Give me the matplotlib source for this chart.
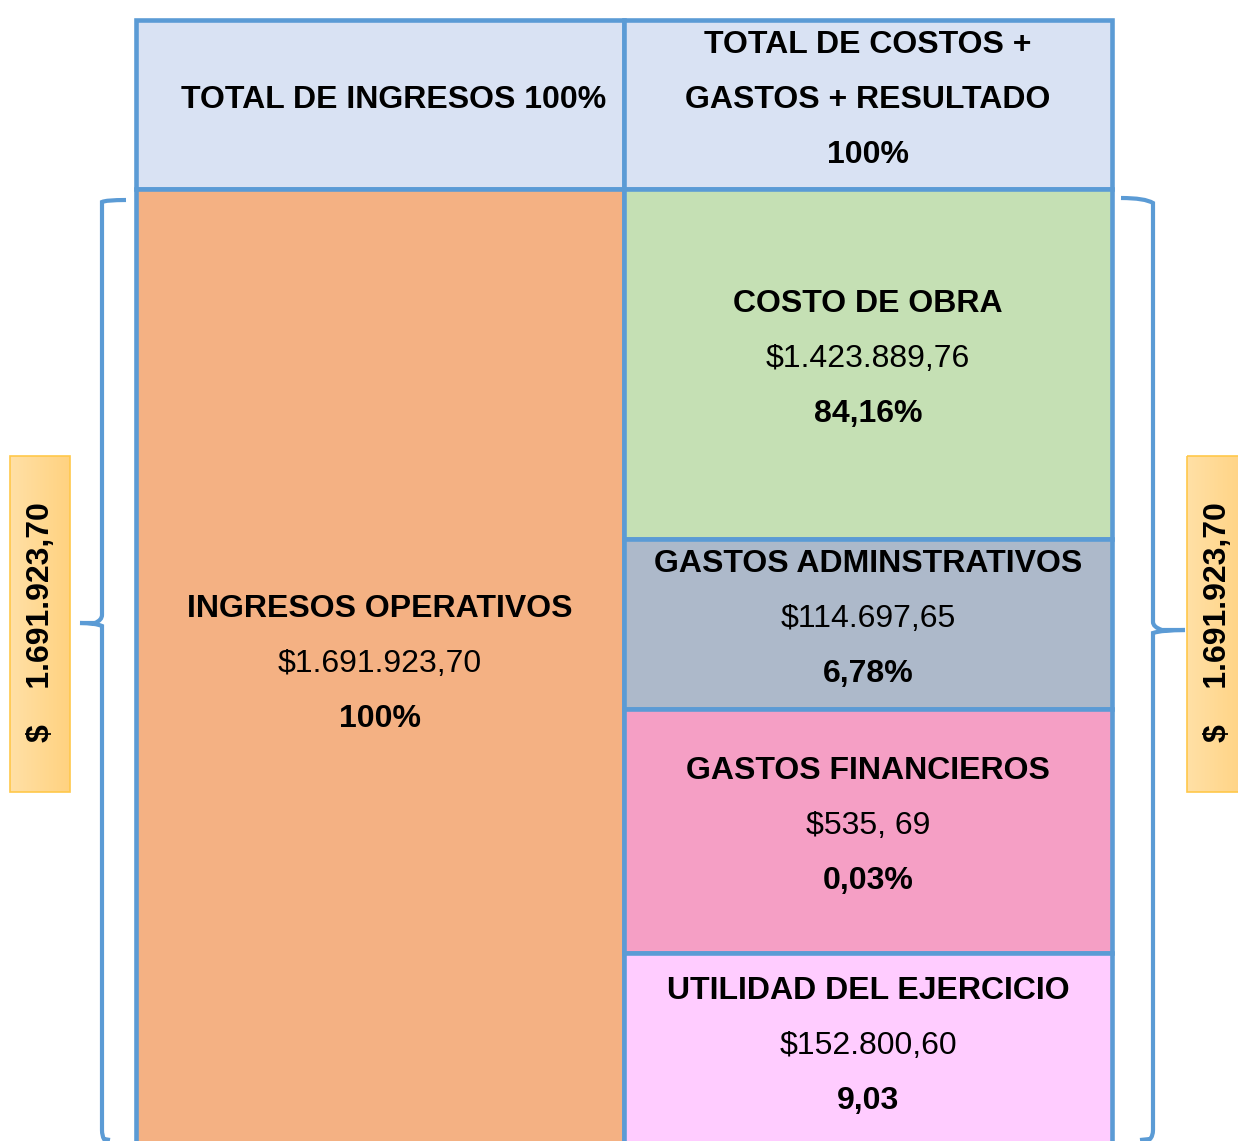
import matplotlib
matplotlib.use("Agg")
import matplotlib.pyplot as plt
import numpy as np
from matplotlib.patches import Rectangle
from matplotlib.path import Path
from matplotlib.patches import PathPatch
from matplotlib.colors import LinearSegmentedColormap

plt.rcParams['font.family'] = ['Liberation Sans', 'DejaVu Sans']

# ---- data ----
header_left = "TOTAL DE INGRESOS 100%"
header_right = ["TOTAL DE COSTOS +", "GASTOS + RESULTADO", "100%"]
income_name = "INGRESOS OPERATIVOS"
income_value = "$1.691.923,70"
income_pct = "100%"
cost_names = ["COSTO DE OBRA", "GASTOS ADMINSTRATIVOS", "GASTOS FINANCIEROS", "UTILIDAD DEL EJERCICIO"]
cost_values = ["$1.423.889,76", "$114.697,65", "$535, 69", "$152.800,60"]
cost_pcts = ["84,16%", "6,78%", "0,03%", "9,03"]
side_total = "$    1.691.923,70"

# ---- layout (pixels) ----
W, H = 1238, 1141
XL, XM, XR = 136, 624, 1112
Y_TOP, Y_HEAD = 20, 189
Y_BOUNDS = [189, 539, 709, 953, 1145]
cost_colors = ["#C5E0B4", "#ADB9CA", "#F59FC5", "#FFCCFF"]
head_color = "#D9E2F3"
income_color = "#F4B183"
line_color = "#5B9BD5"
LS = 55  # line spacing
DY = 3

fig = plt.figure(figsize=(W / 100, H / 100), dpi=100)
ax = fig.add_axes([0, 0, 1, 1])
ax.set_xlim(0, W)
ax.set_ylim(H, 0)
ax.axis("off")

def rect(x0, y0, x1, y1, fc):
    ax.add_patch(Rectangle((x0, y0), x1 - x0, y1 - y0, facecolor=fc,
                           edgecolor=line_color, linewidth=3.3, zorder=2))

rect(XL, Y_TOP, XM, Y_HEAD, head_color)
rect(XM, Y_TOP, XR, Y_HEAD, head_color)
rect(XL, Y_HEAD, XM, 1145, income_color)
for i, c in enumerate(cost_colors):
    rect(XM, Y_BOUNDS[i], XR, Y_BOUNDS[i + 1], c)

BF = 23
NF = 23
ax.text(394, 97 + DY, header_left, ha="center", va="center", fontsize=BF, fontweight="bold", zorder=5)
for k, t in enumerate(header_right):
    ax.text(868, 42 + LS * k + DY, t, ha="center", va="center", fontsize=BF, fontweight="bold", zorder=5)

ax.text(380, 606 + DY, income_name, ha="center", va="center", fontsize=BF, fontweight="bold", zorder=5)
ax.text(380, 661 + DY, income_value, ha="center", va="center", fontsize=NF, zorder=5)
ax.text(380, 716 + DY, income_pct, ha="center", va="center", fontsize=BF, fontweight="bold", zorder=5)

title_y = [301, 561, 768, 988]
for i in range(len(cost_names)):
    y = title_y[i] + DY
    ax.text(868, y, cost_names[i], ha="center", va="center", fontsize=BF, fontweight="bold", zorder=5)
    ax.text(868, y + LS, cost_values[i], ha="center", va="center", fontsize=NF, zorder=5)
    ax.text(868, y + 2 * LS, cost_pcts[i], ha="center", va="center", fontsize=BF, fontweight="bold", zorder=5)

# braces
def brace_left():
    verts = [(126, 200), (106, 200), (102, 202), (102, 212),
             (102, 615), (102, 620), (95, 623), (80, 623),
             (95, 623), (102, 626), (102, 633),
             (102, 1130), (102, 1136), (104, 1139), (110, 1140)]
    codes = [Path.MOVETO, Path.CURVE3, Path.CURVE3, Path.LINETO,
             Path.LINETO, Path.CURVE3, Path.CURVE3, Path.LINETO,
             Path.CURVE3, Path.CURVE3, Path.LINETO,
             Path.LINETO, Path.CURVE3, Path.CURVE3, Path.LINETO]
    return Path(verts, codes)

def brace_right():
    verts = [(1121, 198), (1145, 198), (1153, 203), (1153, 212),
             (1153, 622), (1153, 627), (1162, 630), (1185, 630),
             (1162, 630), (1153, 633), (1153, 640),
             (1153, 1130), (1153, 1136), (1150, 1139), (1140, 1140)]
    codes = [Path.MOVETO, Path.CURVE3, Path.CURVE3, Path.LINETO,
             Path.LINETO, Path.CURVE3, Path.CURVE3, Path.LINETO,
             Path.CURVE3, Path.CURVE3, Path.LINETO,
             Path.LINETO, Path.CURVE3, Path.CURVE3, Path.LINETO]
    return Path(verts, codes)

for p in (brace_left(), brace_right()):
    ax.add_patch(PathPatch(p, facecolor="none", edgecolor=line_color, linewidth=3,
                           capstyle="butt", zorder=3))

# side boxes with gradient
cmap = LinearSegmentedColormap.from_list("g", ["#FFE0A6", "#FFD280"])
grad = np.linspace(0, 1, 256).reshape(1, -1)
for (x0, x1) in [(10, 70), (1187, 1250)]:
    ax.imshow(grad, cmap=cmap, extent=(x0, x1, 792, 456), aspect="auto", zorder=1)
    ax.add_patch(Rectangle((x0, 456), x1 - x0, 336, facecolor="none",
                           edgecolor="#FFC84A", linewidth=1.2, zorder=2))

ax.text(41, 622, side_total, rotation=90, ha="center", va="center",
        fontsize=23, fontweight="bold", zorder=5)
ax.text(1218, 622, side_total, rotation=90, ha="center", va="center",
        fontsize=23, fontweight="bold", zorder=5)

ax.set_xlim(0, W)
ax.set_ylim(H, 0)
fig.savefig("out.png", dpi=100)
